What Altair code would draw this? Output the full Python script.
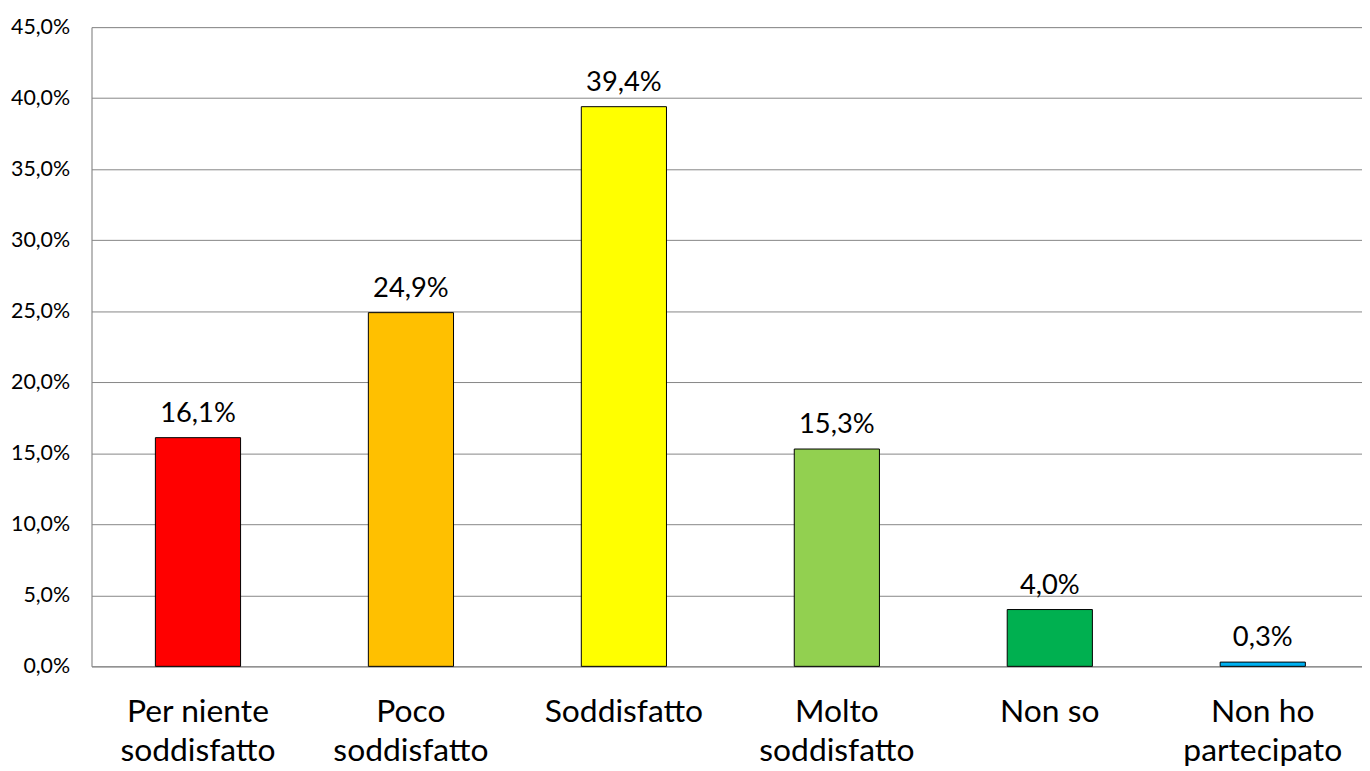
import altair as alt
import pandas as pd

categories = ["Per niente\nsoddisfatto", "Poco\nsoddisfatto", "Soddisfatto",
              "Molto\nsoddisfatto", "Non so", "Non ho\npartecipato"]
values = [0.161, 0.249, 0.394, 0.153, 0.040, 0.003]
colors = ["#FF0000", "#FFC000", "#FFFF00", "#92D050", "#00B050", "#00B0F0"]
y_ticks = [0.0, 0.05, 0.10, 0.15, 0.20, 0.25, 0.30, 0.35, 0.40, 0.45]

df = pd.DataFrame({"cat": categories, "val": values, "col": colors})

FONT = "Lato"

x = alt.X("cat:N", sort=categories, title=None,
          scale=alt.Scale(paddingInner=0.6, paddingOuter=0.283, align=0.53),
          axis=alt.Axis(labelExpr="split(datum.label, '\\n')", labelAngle=0,
                        labelFontSize=32, labelFont=FONT, labelColor="#000000",
                        labelBaseline="alphabetic", labelPadding=55,
                        labelLineHeight=40, ticks=False, domainColor="#868686",
                        labelLimit=400))
y = alt.Y("val:Q", title=None,
          scale=alt.Scale(domain=[0, 0.45], nice=False),
          axis=alt.Axis(values=y_ticks,
                        labelExpr="replace(format(datum.value, '.1%'), '.', ',')",
                        labelFontSize=21.5, labelFont=FONT, labelColor="#000000",
                        labelPadding=22, ticks=False, domainColor="#868686",
                        gridColor="#868686", grid=True))

base = alt.Chart(df).transform_calculate(
    lab="replace(format(datum.val, '.1%'), '.', ',')"
).encode(x=x, y=y)

bars = base.mark_bar(stroke="#000000", strokeWidth=1).encode(
    color=alt.Color("col:N", scale=None))

labels = base.mark_text(baseline="alphabetic", dy=-16, fontSize=27.5, font=FONT,
                        color="#000000").encode(text="lab:N")

chart = alt.layer(bars, labels).properties(
    width=1278, height=643,
    autosize=alt.AutoSizeParams(type="none"),
    padding={"left": 84, "top": 17, "right": 0, "bottom": 100},
).configure_view(stroke=None).configure(background="white")

chart.save("out.html", embed_options={"renderer": "svg", "actions": False})
